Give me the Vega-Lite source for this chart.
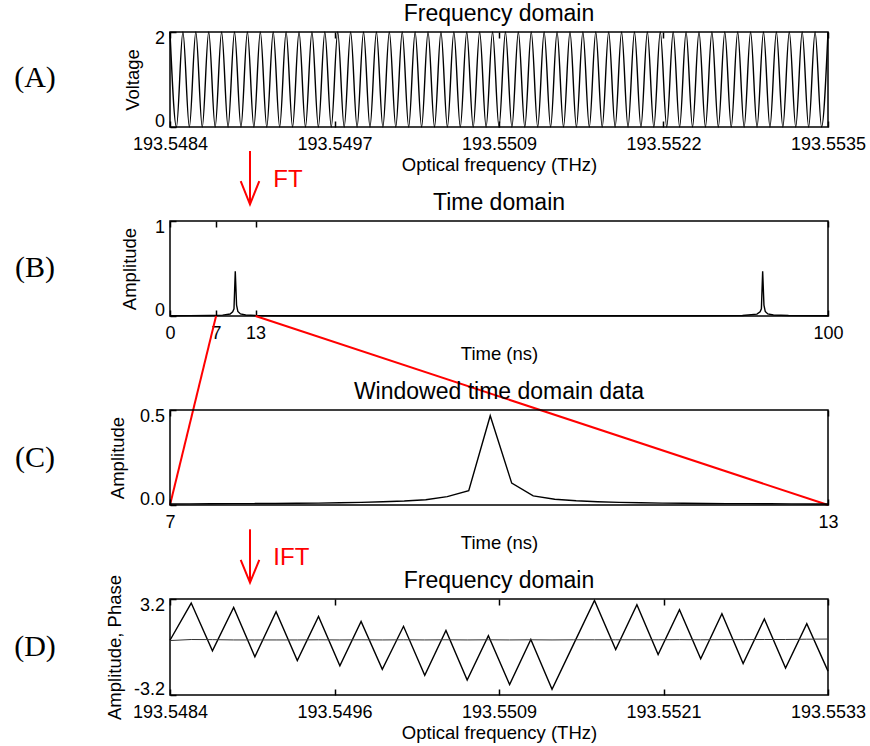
{
  "$schema": "https://vega.github.io/schema/vega-lite/v6.json",
  "columns": 2,
  "spacing": {"row": 94, "column": 105},
  "bounds": "flush",
  "padding": {"left": 5, "top": 2, "right": 5, "bottom": 0},
  "config": {
    "font": "Liberation Sans",
    "view": {"stroke": "black", "strokeWidth": 1.5},
    "axis": {"domain": false, "grid": false, "labelFontSize": 18, "titleFontSize": 18.5, "labelColor": "black", "titleColor": "black", "titleFontWeight": "normal", "tickColor": "black", "tickSize": -6, "tickWidth": 1.5, "labelFont": "Liberation Sans", "titleFont": "Liberation Sans"},
    "axisX": {"labelFlush": false, "labelPadding": 14.5, "titlePadding": 1.5, "labelOverlap": false},
    "axisY": {"labelFlush": true, "labelFlushOffset": 3, "labelPadding": 11.5, "titlePadding": 12},
    "title": {"fontSize": 23, "fontWeight": "normal", "font": "Liberation Sans", "color": "black", "offset": 3}
  },
  "concat": [
    {
      "width": 60, "height": 95, "view": {"stroke": null},
      "data": {"values": [{"label": "(A)"}]},
      "mark": {"type": "text", "font": "Liberation Serif", "fontSize": 30, "color": "black", "dy": -2},
      "encoding": {"text": {"field": "label", "type": "nominal"}}
    },
    {
      "width": 658, "height": 95,
      "title": "Frequency domain",
      "resolve": {"axis": {"x": "independent"}},
      "layer": [
        {
          "data": {"values": [
            {"f":193.5484,"v":2},{"f":193.54845,"v":0},{"f":193.5485,"v":2},{"f":193.54855,"v":0},{"f":193.5486,"v":2},{"f":193.54865,"v":0},{"f":193.5487,"v":2},{"f":193.54875,"v":0},{"f":193.5488,"v":2},{"f":193.54885,"v":0},{"f":193.5489,"v":2},{"f":193.54895,"v":0},{"f":193.549,"v":2},{"f":193.54905,"v":0},{"f":193.5491,"v":2},{"f":193.54915,"v":0},{"f":193.5492,"v":2},{"f":193.54925,"v":0},{"f":193.5493,"v":2},{"f":193.54935,"v":0},{"f":193.5494,"v":2},{"f":193.54945,"v":0},{"f":193.5495,"v":2},{"f":193.54955,"v":0},{"f":193.5496,"v":2},{"f":193.54965,"v":0},{"f":193.5497,"v":2},{"f":193.54975,"v":0},{"f":193.5498,"v":2},{"f":193.54985,"v":0},{"f":193.5499,"v":2},{"f":193.54995,"v":0},{"f":193.55,"v":2},{"f":193.55005,"v":0},{"f":193.5501,"v":2},{"f":193.55015,"v":0},{"f":193.5502,"v":2},{"f":193.55025,"v":0},{"f":193.5503,"v":2},{"f":193.55035,"v":0},{"f":193.5504,"v":2},{"f":193.55045,"v":0},{"f":193.5505,"v":2},{"f":193.55055,"v":0},{"f":193.5506,"v":2},{"f":193.55065,"v":0},{"f":193.5507,"v":2},{"f":193.55075,"v":0},{"f":193.5508,"v":2},{"f":193.55085,"v":0},{"f":193.5509,"v":2},{"f":193.55095,"v":0},{"f":193.551,"v":2},{"f":193.55105,"v":0},{"f":193.5511,"v":2},{"f":193.55115,"v":0},{"f":193.5512,"v":2},{"f":193.55125,"v":0},{"f":193.5513,"v":2},{"f":193.55135,"v":0},{"f":193.5514,"v":2},{"f":193.55145,"v":0},{"f":193.5515,"v":2},{"f":193.55155,"v":0},{"f":193.5516,"v":2},{"f":193.55165,"v":0},{"f":193.5517,"v":2},{"f":193.55175,"v":0},{"f":193.5518,"v":2},{"f":193.55185,"v":0},{"f":193.5519,"v":2},{"f":193.55195,"v":0},{"f":193.552,"v":2},{"f":193.55205,"v":0},{"f":193.5521,"v":2},{"f":193.55215,"v":0},{"f":193.5522,"v":2},{"f":193.55225,"v":0},{"f":193.5523,"v":2},{"f":193.55235,"v":0},{"f":193.5524,"v":2},{"f":193.55245,"v":0},{"f":193.5525,"v":2},{"f":193.55255,"v":0},{"f":193.5526,"v":2},{"f":193.55265,"v":0},{"f":193.5527,"v":2},{"f":193.55275,"v":0},{"f":193.5528,"v":2},{"f":193.55285,"v":0},{"f":193.5529,"v":2},{"f":193.55295,"v":0},{"f":193.553,"v":2},{"f":193.55305,"v":0},{"f":193.5531,"v":2},{"f":193.55315,"v":0},{"f":193.5532,"v":2},{"f":193.55325,"v":0},{"f":193.5533,"v":2},{"f":193.55335,"v":0},{"f":193.5534,"v":2},{"f":193.55345,"v":0},{"f":193.5535,"v":2}
          ]},
          "mark": {"type": "line", "color": "black", "strokeWidth": 1.4, "interpolate": "monotone"},
          "encoding": {
            "x": {"field": "f", "type": "quantitative", "scale": {"domain": [193.5484, 193.5535], "nice": false, "zero": false},
                  "axis": {"orient": "bottom", "title": "Optical frequency (THz)", "values": [193.5484, 193.549675, 193.55095, 193.552225, 193.5535], "labelExpr": "format(datum.value - 0.0000001, '.4f')"}},
            "y": {"field": "v", "type": "quantitative", "scale": {"domain": [0, 2], "nice": false},
                  "axis": {"title": "Voltage", "values": [0, 2], "format": "d"}}
          }
        },
        {
          "data": {"values": [
            {"part":"shaft","f":193.54902,"v":-0.505},{"part":"shaft","f":193.54902,"v":-1.627},
            {"part":"head","f":193.548948,"v":-1.137},{"part":"head","f":193.54902,"v":-1.627},{"part":"head","f":193.549092,"v":-1.137}
          ]},
          "mark": {"type": "line", "color": "red", "strokeWidth": 2, "clip": false},
          "encoding": {
            "x": {"field": "f", "type": "quantitative",
                  "axis": {"orient": "top", "title": null, "labels": false, "values": [193.5484, 193.549675, 193.55095, 193.552225, 193.5535]}},
            "y": {"field": "v", "type": "quantitative"},
            "detail": {"field": "part", "type": "nominal"}
          }
        },
        {
          "data": {"values": [{"f":193.549201,"v":-1.118,"label":"FT"}]},
          "mark": {"type": "text", "color": "red", "fontSize": 24, "align": "left", "baseline": "middle", "font": "Liberation Sans"},
          "encoding": {
            "x": {"field": "f", "type": "quantitative", "axis": null},
            "y": {"field": "v", "type": "quantitative"},
            "text": {"field": "label", "type": "nominal"}
          }
        }
      ]
    },
    {
      "width": 60, "height": 95, "view": {"stroke": null},
      "data": {"values": [{"label": "(B)"}]},
      "mark": {"type": "text", "font": "Liberation Serif", "fontSize": 30, "color": "black", "dy": -1},
      "encoding": {"text": {"field": "label", "type": "nominal"}}
    },
    {
      "width": 658, "height": 95,
      "title": "Time domain",
      "resolve": {"axis": {"x": "independent"}},
      "layer": [
        {
          "data": {"values": [
            {"t":0,"amp":0.003},{"t":3,"amp":0.004},{"t":6,"amp":0.006},{"t":8,"amp":0.009},{"t":9.136,"amp":0.021},{"t":9.528,"amp":0.044},{"t":9.724,"amp":0.075},{"t":9.92,"amp":0.47},{"t":10.116,"amp":0.115},{"t":10.312,"amp":0.048},{"t":10.704,"amp":0.022},{"t":11.5,"amp":0.01},{"t":13,"amp":0.005},{"t":20,"amp":0.003},{"t":50,"amp":0.002},{"t":80,"amp":0.003},{"t":87,"amp":0.006},{"t":89.2,"amp":0.02},{"t":89.68,"amp":0.044},{"t":89.876,"amp":0.075},{"t":90.07,"amp":0.47},{"t":90.266,"amp":0.115},{"t":90.462,"amp":0.048},{"t":90.854,"amp":0.022},{"t":91.7,"amp":0.01},{"t":94,"amp":0.005},{"t":100,"amp":0.003}
          ]},
          "mark": {"type": "line", "color": "black", "strokeWidth": 1.4},
          "encoding": {
            "x": {"field": "t", "type": "quantitative", "scale": {"domain": [0, 100], "nice": false, "zero": false},
                  "axis": {"orient": "bottom", "title": "Time (ns)", "values": [0, 7, 13, 100], "format": "d"}},
            "y": {"field": "amp", "type": "quantitative", "scale": {"domain": [0, 1], "nice": false},
                  "axis": {"title": "Amplitude", "values": [0, 1], "format": "d", "titlePadding": 15}}
          }
        },
        {
          "data": {"values": [
            {"seg":"a","t":7,"amp":0},{"seg":"a","t":0,"amp":-1.9895},
            {"seg":"b","t":13,"amp":0},{"seg":"b","t":100,"amp":-1.9895}
          ]},
          "mark": {"type": "line", "color": "red", "strokeWidth": 2, "clip": false},
          "encoding": {
            "x": {"field": "t", "type": "quantitative",
                  "axis": {"orient": "top", "title": null, "labels": false, "values": [0, 7, 13, 100]}},
            "y": {"field": "amp", "type": "quantitative"},
            "detail": {"field": "seg", "type": "nominal"}
          }
        }
      ]
    },
    {
      "width": 60, "height": 95, "view": {"stroke": null},
      "data": {"values": [{"label": "(C)"}]},
      "mark": {"type": "text", "font": "Liberation Serif", "fontSize": 30, "color": "black"},
      "encoding": {"text": {"field": "label", "type": "nominal"}}
    },
    {
      "width": 658, "height": 95,
      "title": "Windowed time domain data",
      "resolve": {"axis": {"x": "independent"}},
      "layer": [
        {
          "data": {"values": [
            {"t":7.0,"amp":0.0055},{"t":7.176,"amp":0.006},{"t":7.372,"amp":0.0065},{"t":7.568,"amp":0.007},{"t":7.764,"amp":0.0075},{"t":7.96,"amp":0.008},{"t":8.156,"amp":0.009},{"t":8.352,"amp":0.01},{"t":8.548,"amp":0.012},{"t":8.744,"amp":0.014},{"t":8.94,"amp":0.017},{"t":9.136,"amp":0.021},{"t":9.332,"amp":0.028},{"t":9.528,"amp":0.044},{"t":9.724,"amp":0.075},{"t":9.92,"amp":0.47},{"t":10.116,"amp":0.115},{"t":10.312,"amp":0.048},{"t":10.508,"amp":0.03},{"t":10.704,"amp":0.022},{"t":10.9,"amp":0.017},{"t":11.096,"amp":0.014},{"t":11.292,"amp":0.012},{"t":11.488,"amp":0.01},{"t":11.684,"amp":0.009},{"t":11.88,"amp":0.008},{"t":12.076,"amp":0.0075},{"t":12.272,"amp":0.007},{"t":12.468,"amp":0.0065},{"t":12.664,"amp":0.006},{"t":12.86,"amp":0.0055},{"t":13.0,"amp":0.005}
          ]},
          "mark": {"type": "line", "color": "black", "strokeWidth": 1.4},
          "encoding": {
            "x": {"field": "t", "type": "quantitative", "scale": {"domain": [7, 13], "nice": false, "zero": false},
                  "axis": {"orient": "bottom", "title": "Time (ns)", "values": [7, 13], "format": "d"}},
            "y": {"field": "amp", "type": "quantitative", "scale": {"domain": [0, 0.5], "nice": false},
                  "axis": {"title": "Amplitude", "values": [0, 0.5], "format": ".1f"}}
          }
        },
        {
          "data": {"values": [
            {"part":"shaft","t":7.7295,"amp":-0.128},{"part":"shaft","t":7.7295,"amp":-0.408},
            {"part":"head","t":7.6447,"amp":-0.289},{"part":"head","t":7.7295,"amp":-0.408},{"part":"head","t":7.8143,"amp":-0.289}
          ]},
          "mark": {"type": "line", "color": "red", "strokeWidth": 2, "clip": false},
          "encoding": {
            "x": {"field": "t", "type": "quantitative",
                  "axis": {"orient": "top", "title": null, "labels": false, "values": [7, 13]}},
            "y": {"field": "amp", "type": "quantitative"},
            "detail": {"field": "part", "type": "nominal"}
          }
        },
        {
          "data": {"values": [{"t":7.942,"amp":-0.277,"label":"IFT"}]},
          "mark": {"type": "text", "color": "red", "fontSize": 24, "align": "left", "baseline": "middle", "font": "Liberation Sans"},
          "encoding": {
            "x": {"field": "t", "type": "quantitative", "axis": null},
            "y": {"field": "amp", "type": "quantitative"},
            "text": {"field": "label", "type": "nominal"}
          }
        }
      ]
    },
    {
      "width": 60, "height": 96, "view": {"stroke": null},
      "data": {"values": [{"label": "(D)"}]},
      "mark": {"type": "text", "font": "Liberation Serif", "fontSize": 30, "color": "black"},
      "encoding": {"text": {"field": "label", "type": "nominal"}}
    },
    {
      "width": 658, "height": 96,
      "title": {"text": "Frequency domain", "offset": -19},
      "resolve": {"axis": {"x": "independent"}},
      "layer": [
        {
          "data": {"values": [
            {"f":193.5484,"val":0.45},{"f":193.548558,"val":2.93},{"f":193.548716,"val":-0.25},{"f":193.548874,"val":2.64},{"f":193.549032,"val":-0.65},{"f":193.54919,"val":2.36},{"f":193.549348,"val":-0.9},{"f":193.549506,"val":2.03},{"f":193.549665,"val":-1.25},{"f":193.549823,"val":1.71},{"f":193.549981,"val":-1.49},{"f":193.550139,"val":1.38},{"f":193.550297,"val":-1.89},{"f":193.550455,"val":1.1},{"f":193.550613,"val":-2.2},{"f":193.550771,"val":0.76},{"f":193.550929,"val":-2.51},{"f":193.551087,"val":0.5},{"f":193.551245,"val":-2.82},{"f":193.551403,"val":0.14},{"f":193.551561,"val":3.11},{"f":193.551719,"val":-0.17},{"f":193.551877,"val":2.82},{"f":193.552035,"val":-0.5},{"f":193.552194,"val":2.49},{"f":193.552352,"val":-0.78},{"f":193.55251,"val":2.22},{"f":193.552668,"val":-1.1},{"f":193.552826,"val":1.87},{"f":193.552984,"val":-1.41},{"f":193.553142,"val":1.56},{"f":193.5533,"val":-1.61}
          ]},
          "mark": {"type": "line", "color": "black", "strokeWidth": 1.4},
          "encoding": {
            "x": {"field": "f", "type": "quantitative", "scale": {"domain": [193.5484, 193.5533], "nice": false, "zero": false},
                  "axis": {"orient": "bottom", "title": "Optical frequency (THz)", "values": [193.5484, 193.549625, 193.55085, 193.552075, 193.5533], "labelExpr": "format(datum.value + 0.0000001, '.4f')"}},
            "y": {"field": "val", "type": "quantitative", "scale": {"domain": [-3.2, 3.2], "nice": false, "zero": false},
                  "axis": {"title": "Amplitude, Phase", "values": [-3.2, 3.2], "labelExpr": "(datum.value < 0 ? '-' : '') + format(abs(datum.value), '.1f')", "titlePadding": 9}}
          }
        },
        {
          "data": {"values": [
            {"f":193.5484,"val":0.43},{"f":193.548558,"val":0.5},{"f":193.548716,"val":0.49},{"f":193.548874,"val":0.47},{"f":193.549032,"val":0.47},{"f":193.54919,"val":0.47},{"f":193.549348,"val":0.47},{"f":193.549506,"val":0.48},{"f":193.549665,"val":0.47},{"f":193.549823,"val":0.48},{"f":193.549981,"val":0.47},{"f":193.550139,"val":0.48},{"f":193.550297,"val":0.47},{"f":193.550455,"val":0.48},{"f":193.550613,"val":0.47},{"f":193.550771,"val":0.48},{"f":193.550929,"val":0.47},{"f":193.551087,"val":0.48},{"f":193.551245,"val":0.47},{"f":193.551403,"val":0.48},{"f":193.551561,"val":0.48},{"f":193.551719,"val":0.48},{"f":193.551877,"val":0.48},{"f":193.552035,"val":0.48},{"f":193.552194,"val":0.49},{"f":193.552352,"val":0.48},{"f":193.55251,"val":0.49},{"f":193.552668,"val":0.49},{"f":193.552826,"val":0.5},{"f":193.552984,"val":0.5},{"f":193.553142,"val":0.52},{"f":193.5533,"val":0.53}
          ]},
          "mark": {"type": "line", "color": "#333333", "strokeWidth": 1},
          "encoding": {
            "x": {"field": "f", "type": "quantitative",
                  "axis": {"orient": "top", "title": null, "labels": false, "values": [193.5484, 193.549625, 193.55085, 193.552075, 193.5533]}},
            "y": {"field": "val", "type": "quantitative"}
          }
        }
      ]
    }
  ]
}
